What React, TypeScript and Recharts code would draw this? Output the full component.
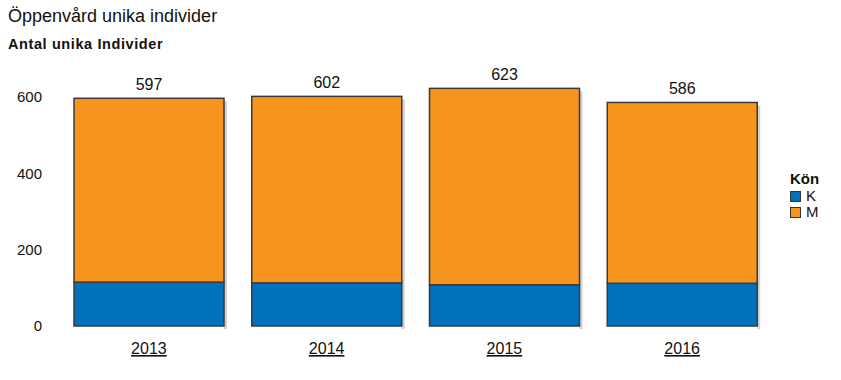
import React from "react";
import { BarChart, Bar, XAxis, YAxis, Legend, LabelList } from "recharts";

const years = ["2013", "2014", "2015", "2016"];
const kValues = [115, 113, 108, 112];
const totals = [597, 602, 623, 586];
const mValues = totals.map((t, i) => t - kValues[i]);
const yTicks = [0, 200, 400, 600];

const seriesNames = ["K", "M"];
const colors = ["#0071BC", "#F7941E"];

const data = years.map((y, i) => ({ year: y, K: kValues[i], M: mValues[i], total: totals[i] }));

const FONT = "'Liberation Sans', Arial, sans-serif";

const ShadowBar = (props: any) => {
  const { x, y, width, height, fill } = props;
  if (!height || height <= 0) return null;
  return (
    <g>
      <rect x={x + width} y={y + 3} width={3} height={height} fill="#000" fillOpacity={0.18} />
      <rect x={x} y={y} width={width} height={height} fill={fill} stroke="#3a3a3a" strokeWidth={1.5} />
    </g>
  );
};

const XTick = (props: any) => {
  const { x, y, payload } = props;
  return (
    <text x={x} y={y} dy={14} textAnchor="middle" fontFamily={FONT} fontSize={16} fill="#111" textDecoration="underline">
      {payload.value}
    </text>
  );
};

const LegendContent = (props: any) => {
  const { payload } = props;
  return (
    <div style={{ fontFamily: FONT, color: "#111" }}>
      <div style={{ fontWeight: "bold", fontSize: 15, height: 18, lineHeight: "18px" }}>Kön</div>
      {(payload || []).map((p: any) => (
        <div key={p.value} style={{ display: "flex", alignItems: "center", fontSize: 15, height: 16, lineHeight: "16px" }}>
          <span style={{ display: "inline-block", width: 9, height: 9, background: p.color, border: "1px solid #333", marginRight: 5 }} />
          {p.value}
        </div>
      ))}
    </div>
  );
};

export default function App() {
  return (
    <div style={{ position: "absolute", left: 0, top: 0, width: 841, height: 380, background: "#fff" }}>
      <div style={{ position: "absolute", left: 8, top: 6, fontFamily: FONT, fontSize: 18, color: "#111" }}>
        Öppenvård unika individer
      </div>
      <div style={{ position: "absolute", left: 8, top: 36, fontFamily: FONT, fontSize: 14.5, fontWeight: "bold", letterSpacing: 0.6, color: "#111" }}>
        Antal unika Individer
      </div>
      <BarChart width={841} height={380} data={data} margin={{ top: 59, right: 20, bottom: 0, left: 0 }} barCategoryGap={14}>
        <XAxis dataKey="year" axisLine={false} tickLine={false} height={54} tick={<XTick />} tickMargin={8} />
        <YAxis
          domain={[0, 700]}
          ticks={yTicks}
          axisLine={false}
          tickLine={false}
          width={60}
          tickMargin={12}
          tick={{ fontFamily: FONT, fontSize: 15, fill: "#111" }}
        />
        <Legend
          layout="vertical"
          verticalAlign="top"
          align="right"
          content={<LegendContent />}
          wrapperStyle={{ position: "absolute", left: 790, top: 170, width: 50 }}
        />
        {seriesNames.map((name, i) => (
          <Bar key={name} dataKey={name} name={name} stackId="a" fill={colors[i]} shape={<ShadowBar />} isAnimationActive={false}>
            {i === seriesNames.length - 1 && (
              <LabelList dataKey="total" position="top" offset={8} style={{ fontFamily: FONT, fontSize: 16, fill: "#111" }} />
            )}
          </Bar>
        ))}
      </BarChart>
    </div>
  );
}
